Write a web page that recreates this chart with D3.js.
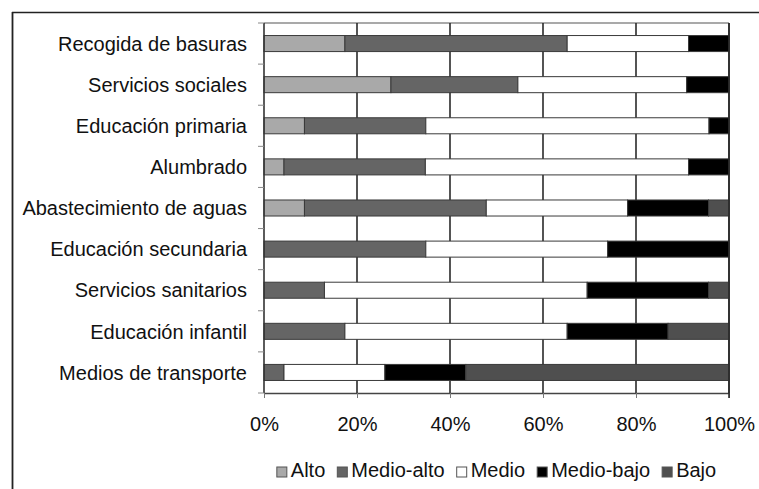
<!DOCTYPE html>
<html>
<head>
<meta charset="utf-8">
<script src="https://cdn.jsdelivr.net/npm/d3@7"></script>
<style>
  html, body { margin: 0; padding: 0; background: #fff; }
  svg { display: block; font-family: "Liberation Sans", Arial, sans-serif; }
</style>
</head>
<body>
<svg id="chart" width="759" height="489"></svg>
<script>
const categories = [
  "Recogida de basuras",
  "Servicios sociales",
  "Educación primaria",
  "Alumbrado",
  "Abastecimiento de aguas",
  "Educación secundaria",
  "Servicios sanitarios",
  "Educación infantil",
  "Medios de transporte"
];
const seriesNames = ["Alto", "Medio-alto", "Medio", "Medio-bajo", "Bajo"];
const alto      = [17.4, 27.3,  8.7,  4.3,  8.7,  0.0,  0.0,  0.0,  0.0];
const medioAlto = [47.8, 27.3, 26.1, 30.4, 39.1, 34.8, 13.0, 17.4,  4.3];
const medio     = [26.1, 36.3, 60.9, 56.6, 30.4, 39.1, 56.5, 47.8, 21.7];
const medioBajo = [ 8.7,  9.1,  4.3,  8.7, 17.4, 26.1, 26.1, 21.7, 17.4];
const bajo      = [ 0.0,  0.0,  0.0,  0.0,  4.4,  0.0,  4.4, 13.1, 56.6];
const tickValues = [0, 20, 40, 60, 80, 100];
const tickLabels = ["0%", "20%", "40%", "60%", "80%", "100%"];
const seriesColors = ["#a9a9a9", "#656565", "#ffffff", "#000000", "#4f4f4f"];

const seriesValues = [alto, medioAlto, medio, medioBajo, bajo];
const rows = categories.map((c, i) => {
  const r = { cat: c };
  seriesNames.forEach((s, j) => { r[s] = seriesValues[j][i]; });
  return r;
});

const svg = d3.select("#chart");
const L = 264, R = 729, T = 23, B = 393;

// outer border (top & left)
svg.append("line").attr("x1", 12).attr("x2", 759).attr("y1", 12.5).attr("y2", 12.5)
  .attr("stroke", "#222").attr("stroke-width", 1.5);
svg.append("line").attr("x1", 12.5).attr("x2", 12.5).attr("y1", 12).attr("y2", 489)
  .attr("stroke", "#222").attr("stroke-width", 1.8);

const x = d3.scaleLinear().domain([0, 100]).range([L, R]);
const y = d3.scaleBand().domain(categories).range([T, B]).paddingInner(0.61).paddingOuter(0.305);

// plot top border
svg.append("line").attr("x1", L).attr("x2", R).attr("y1", T).attr("y2", T)
  .attr("stroke", "#555").attr("stroke-width", 1.2);

// vertical gridlines
svg.append("g").selectAll("line").data(tickValues.slice(1)).join("line")
  .attr("x1", d => x(d)).attr("x2", d => x(d)).attr("y1", T).attr("y2", B)
  .attr("stroke", "#2a2a2a").attr("stroke-width", 1.6);

// stacked bars
const stack = d3.stack().keys(seriesNames)(rows);
const color = d3.scaleOrdinal().domain(seriesNames).range(seriesColors);
svg.append("g").selectAll("g").data(stack).join("g")
  .attr("fill", d => color(d.key))
  .selectAll("rect").data(d => d.filter(p => p[1] - p[0] > 0)).join("rect")
  .attr("x", d => x(d[0]))
  .attr("width", d => x(d[1]) - x(d[0]))
  .attr("y", d => y(d.data.cat))
  .attr("height", y.bandwidth())
  .attr("stroke", "#3a3a3a").attr("stroke-width", 1);

// x axis
const xAxis = d3.axisBottom(x).tickValues(tickValues)
  .tickFormat((d, i) => tickLabels[i]).tickSize(5).tickSizeOuter(0).tickPadding(19);
const gx = svg.append("g").attr("transform", `translate(0,${B})`).call(xAxis);
gx.select(".domain").attr("stroke", "#444").attr("stroke-width", 1.5);
gx.selectAll(".tick line").attr("stroke", "#777").attr("stroke-width", 1);
gx.selectAll("text").attr("font-size", 20).attr("fill", "#111")
  .attr("font-family", "Liberation Sans, Arial, sans-serif");

// y axis line & boundary ticks
svg.append("line").attr("x1", L).attr("x2", L).attr("y1", T).attr("y2", B)
  .attr("stroke", "#333").attr("stroke-width", 1.6);
const boundaries = d3.range(categories.length + 1).map(k => T + k * y.step());
svg.append("g").selectAll("line").data(boundaries).join("line")
  .attr("x1", L - 6).attr("x2", L).attr("y1", d => d).attr("y2", d => d)
  .attr("stroke", "#888").attr("stroke-width", 1);
// right border (100%)
svg.append("line").attr("x1", R).attr("x2", R).attr("y1", T).attr("y2", B + 5)
  .attr("stroke", "#2a2a2a").attr("stroke-width", 1.6);

// category labels
svg.append("g").selectAll("text").data(categories).join("text")
  .attr("x", 247).attr("y", d => y(d) + y.bandwidth() / 2)
  .attr("dy", "0.36em").attr("text-anchor", "end")
  .attr("font-size", 20).attr("fill", "#111").text(d => d);

// legend
const lg = svg.append("g");
const items = lg.selectAll("g").data(seriesNames).join("g");
items.append("rect").attr("width", 10).attr("height", 10).attr("y", -10)
  .attr("fill", d => color(d)).attr("stroke", "#555").attr("stroke-width", 1);
items.append("text").attr("x", 14).attr("y", 0).attr("font-size", 20).attr("fill", "#111").text(d => d);
let cx = 0;
const widths = [];
items.each(function () { widths.push(this.querySelector("text").getComputedTextLength() + 14); });
const gap = 12;
const total = d3.sum(widths) + gap * (widths.length - 1);
let start = (L + R) / 2 - total / 2;
items.attr("transform", (d, i) => {
  const t = `translate(${start},477)`;
  start += widths[i] + gap;
  return t;
});
</script>
</body>
</html>
